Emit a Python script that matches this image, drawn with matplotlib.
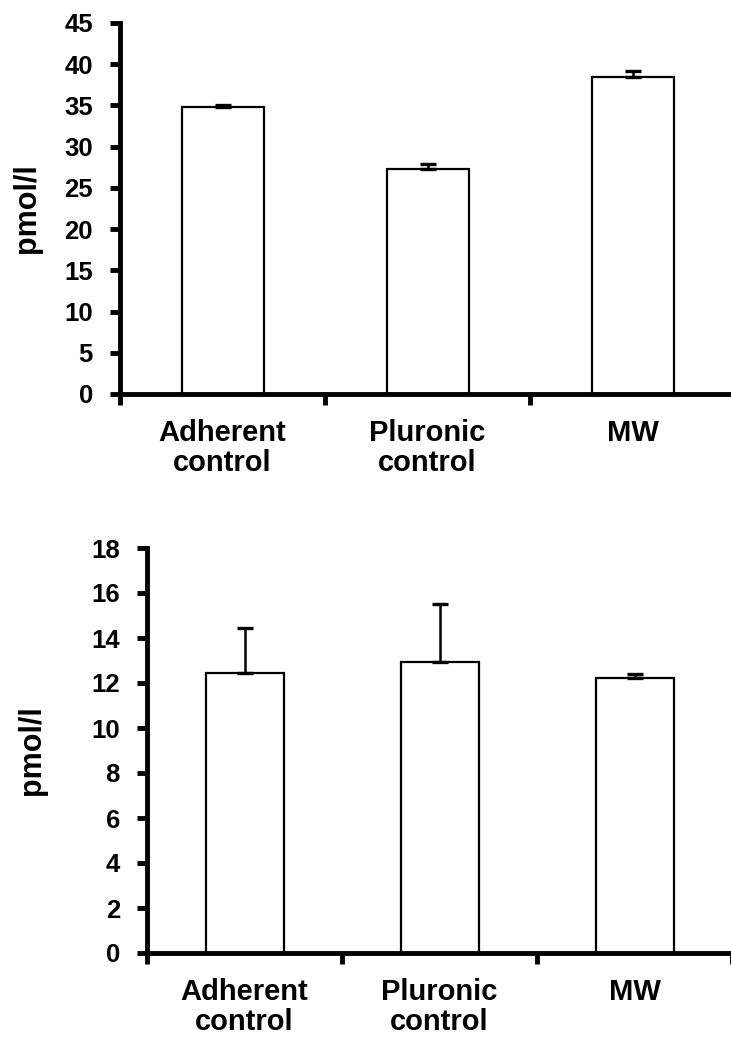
import numpy as np
import matplotlib
matplotlib.use("Agg")
import matplotlib.pyplot as plt

plt.rcParams['font.family'] = ['Liberation Sans', 'DejaVu Sans']
plt.rcParams['font.weight'] = 'bold'

# ---- data ----
categories = ['Adherent\ncontrol', 'Pluronic\ncontrol', 'MW']

top_values = [34.8, 27.3, 38.4]
top_errors = [0.3, 0.6, 0.8]
top_yticks = [0, 5, 10, 15, 20, 25, 30, 35, 40, 45]

bottom_values = [12.43, 12.95, 12.21]
bottom_errors = [2.0, 2.55, 0.17]
bottom_yticks = [0, 2, 4, 6, 8, 10, 12, 14, 16, 18]

ylabel = 'pmol/l'

W, H = 731, 1039
fig = plt.figure(figsize=(W / 100, H / 100), dpi=100)
fig.patch.set_facecolor('white')


def px_axes(left, right, bottom, top):
    # axes box given in pixel coords of the reference image (y from top)
    return fig.add_axes([left / W, 1 - bottom / H, (right - left) / W, (bottom - top) / H])


def draw_panel(ax, values, errors, yticks, ylab_x):
    x = np.arange(len(categories))
    zeros = np.zeros(len(values))
    ax.bar(x, values, width=0.4, color='white', edgecolor='black', linewidth=1.6,
           zorder=2)
    ax.errorbar(x, values, yerr=[zeros, errors], fmt='none', ecolor='black',
                elinewidth=1.8, capsize=6, capthick=2.4, zorder=3)

    ax.set_xlim(-0.5, len(categories) - 0.5)
    ax.set_ylim(yticks[0], yticks[-1])
    ax.set_yticks(yticks)
    ax.set_yticklabels([str(t) for t in yticks])

    # boundary ticks (major) and category labels (minor)
    ax.set_xticks(np.arange(len(categories) + 1) - 0.5)
    ax.set_xticklabels([])
    ax.set_xticks(x, minor=True)
    ax.set_xticklabels(categories, minor=True, fontsize=21, fontweight='bold',
                       linespacing=1.1)
    ax.tick_params(axis='x', which='minor', length=0, pad=18)
    ax.tick_params(axis='x', which='major', direction='out', length=8, width=3.5)
    ax.tick_params(axis='y', direction='out', length=7, width=3.5, pad=12.5,
                   labelsize=18.5)
    for lab in ax.get_yticklabels():
        lab.set_fontweight('bold')

    for side in ('top', 'right'):
        ax.spines[side].set_visible(False)
    for side in ('left', 'bottom'):
        ax.spines[side].set_linewidth(3.5)
        ax.spines[side].set_zorder(4)

    ax.set_ylabel(ylabel, fontsize=22, fontweight='bold')
    ax.yaxis.set_label_coords(ylab_x, 0.5)


ax_top = px_axes(120, 735, 394, 23)
draw_panel(ax_top, top_values, top_errors, top_yticks, -0.127)

ax_bot = px_axes(147, 732, 953, 548)
draw_panel(ax_bot, bottom_values, bottom_errors, bottom_yticks, -0.171)

fig.savefig('out.png', dpi=100)
